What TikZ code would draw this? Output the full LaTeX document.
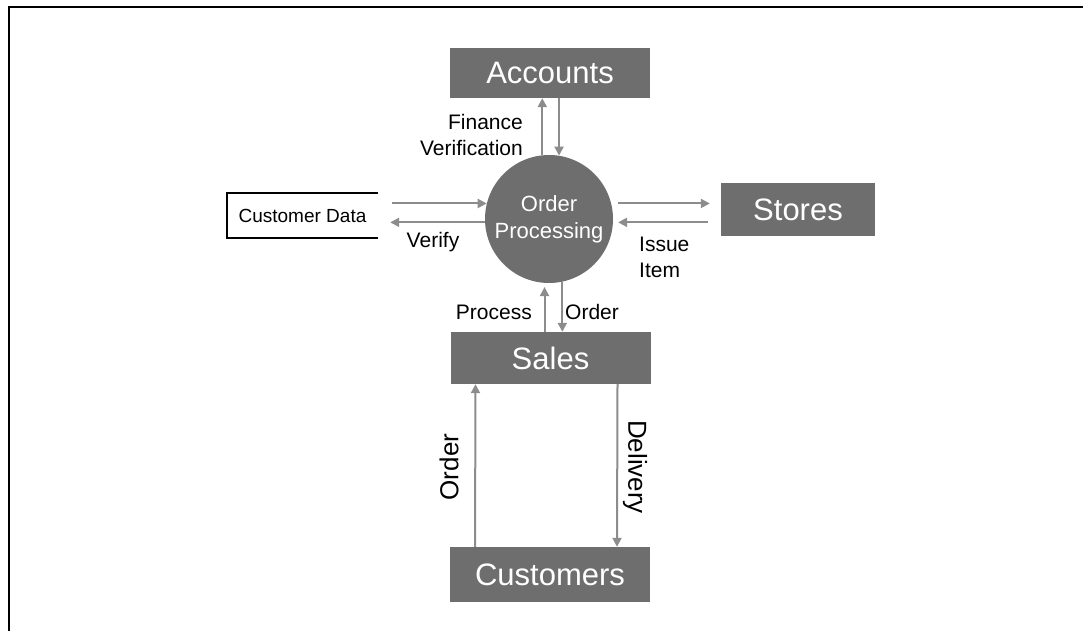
\documentclass[tikz,border=0pt]{standalone}
\usepackage{fontspec}
\setmainfont{Liberation Sans}
\usetikzlibrary{arrows.meta,positioning}
\definecolor{boxgray}{RGB}{110,110,110}
\definecolor{flowgray}{RGB}{140,140,140}
\begin{document}
\begin{tikzpicture}[x=1pt, y=-1pt,
        unit/.style={rectangle, fill=boxgray, text=white, minimum width=200, minimum height=50, inner sep=0,
            font=\fontsize{31}{36}\selectfont},
        flow/.style={draw=flowgray, line width=2pt, -{Triangle[length=9pt,width=9pt]}},
        lbl/.style={inner sep=0, font=\fontsize{21}{26}\selectfont},
        biglbl/.style={inner sep=0, font=\fontsize{26}{30}\selectfont}]
    \useasboundingbox (0,0) rectangle (1083,631);
    \draw[line width=2pt] (9,631) -- (9,7) -- (1083,7);
    % entities and process
    \node[unit] (acc) at (550,73) {Accounts};
    \node[unit, minimum width=154, minimum height=53] (st) at (798,209.5) {Stores};
    \node[unit, minimum height=52] (sales) at (550.5,358) {Sales};
    \node[unit, minimum height=55] (cust) at (550,574.5) {Customers};
    \node[circle, fill=boxgray, text=white, minimum size=128, inner sep=0, align=center,
        font=\fontsize{22}{27}\selectfont] (op) at (549,219) {Order\\Processing};
    \node[minimum width=151, minimum height=45, inner sep=0,
        font=\fontsize{19}{23}\selectfont] (cd) at (302.5,215.5) {Customer Data};
    \draw[line width=1.5pt] (cd.north east) -- (cd.north west) -- (cd.south west) -- (cd.south east);
    % flows
    \draw[flow] (op.96) -- (op.96 |- acc.south);
    \draw[flow] (acc.south -| op.81) -- (op.81);
    \draw[flow, shorten <=14pt] (op.166 -| cd.east) -- (op.166);
    \draw[flow, shorten >=12pt] (op.183) -- (op.183 -| cd.east);
    \draw[flow, shorten <=7pt, shorten >=11pt] (op.14) -- (op.14 -| st.west);
    \draw[flow, shorten <=13pt, shorten >=5pt] (op.357 -| st.west) -- (op.357);
    \draw[flow, shorten >=4pt] (sales.north -| op.266) -- (op.266);
    \draw[flow] (op.282) -- (op.282 |- sales.north);
    \draw[flow] ([xshift=-75pt]cust.north) -- ([xshift=-75pt]sales.south);
    \draw[flow] ([xshift=67pt]sales.south) -- ([xshift=67pt]cust.north);
    % labels
    \node[lbl, anchor=east, align=right] (fin) at (523,135) {Finance\\Verification};
    \node[lbl] (ver) at (433,242) {Verify};
    \node[lbl, anchor=west, align=left] (iss) at (639,257) {Issue\\Item};
    \node[lbl, anchor=east] (proc) at (532,312) {Process};
    \node[lbl, anchor=west] (ord) at (565,312) {Order};
    \node[biglbl, rotate=90] (cord) at (449,467) {Order};
    \node[biglbl, rotate=-90] (del) at (635,467) {Delivery};
\end{tikzpicture}
\end{document}
